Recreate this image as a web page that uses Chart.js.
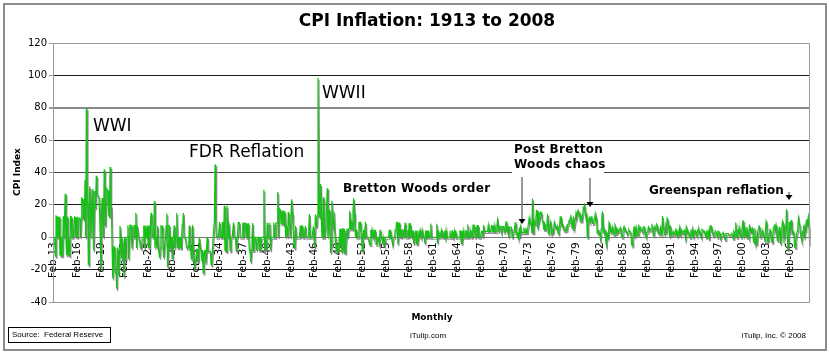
<!DOCTYPE html>
<html>
<head>
<meta charset="utf-8">
<script src="https://cdn.jsdelivr.net/npm/chart.js@4.4.1/dist/chart.umd.min.js"></script>
<style>
html,body{margin:0;padding:0;background:#fff;}
#wrap{width:830px;height:355px;position:relative;}
</style>
</head>
<body>
<div id="wrap"><canvas id="c" width="830" height="355"></canvas></div>
<script>
// Annualized monthly CPI change (%), Feb 1913 .. Aug 2008
const cpi1910s = [
  0, 0, 0, -11.6, 13.1, 12.9, 0, 12.8, 0, 12.7, -11.2,
  0, -11.4, 0, -11.5, 13.0, 0, 12.8, 26.8, 0, -11.1, 12.6, -11.1,
  0, -10.9, -11.3, 12.9, 12.7, 0, 0, 0, 0, 12.6, 12.4, 0,
  12.3, 0, 12.2, 12.0, 11.9, 11.8, 0, 11.6, 24.3, 23.9, 23.4, 11.0,
  10.8, 35.5, 0, 79.6, 20.8, 20.4, -17.0, 20.4, 31.4, 19.7, 0, 19.3,
  29.7, 8.9, -8.2, 18.6, 28.6, 17.9, 38.0, 26.7, 26.1, 25.5, 25.0, 15.8,
  0, -19.8, 16.0, 24.3, 15.4, 0, 41.9, 22.7, 7.0, 22.2, 30.0, 29.3
];
const cpi1920s = [
  28.6, 13.2, 13.0, 43.4, 19.3, 19.0, -5.6, -25.5, -16.4, -5.8, -5.9, -21.8,
  -22.1, -32.0, -6.3, -12.3, -23.5, -6.6, 7.0, 0, -12.7, 0, -6.6, -6.7,
  -24.5, 0, -13.3, 0, 0, 0, 7.4, -13.4, 0, 7.5, 7.4, 7.4,
  -6.9, 0, 0, 7.4, 0, 7.3, 15.1, -6.7, 7.2, 7.2, 0, 0,
  0, -6.7, -6.8, -6.8, 0, 0, 7.3, -6.8, 7.3, 7.3, 0, 7.2,
  0, -6.7, 7.2, -6.7, 7.2, 14.8, 14.6, 0, 0, 0, 22.3, -6.5,
  0, 0, -6.5, 7.0, -6.5, -6.5, -12.7, -6.6, 7.1, 7.1, 7.0, 0,
  -12.7, -6.7, -6.7, 0, 7.2, 14.7, -18.6, -6.7, 7.2, 7.2, -6.7, 0,
  0, -13.0, 0, 0, 7.3, -6.8, 0, 0, 15.0, -6.7, 0, -6.8,
  0, 0, -6.8, -6.8, 7.4, 7.3, 15.0, 0, 0, 0, 0, -6.7
];
const cpi1930s = [
  -6.8, -6.8, -6.8, 7.3, -6.8, -6.9, -13.4, -7.0, 7.5, -7.0, -7.0, -19.9,
  -14.0, -14.1, -7.4, -7.4, -14.5, -14.6, 0, 0, -7.7, -7.7, -15.0, -7.9,
  -22.0, -15.6, -8.2, -8.2, -16.0, -8.4, 0, -8.5, -8.5, -8.6, -8.6, -8.7,
  -16.9, -17.1, -9.0, 0, 0, 9.9, 45.0, 9.5, 0, 0, 0, 0,
  0, 9.4, 0, 0, 0, 9.4, 0, 0, 19.5, -8.5, 0, -8.6,
  19.5, 9.2, 0, 9.1, 0, -8.4, 0, 0, 0, 0, 9.1, 0,
  0, 0, -8.4, 0, 0, 9.1, 9.1, 9.0, 0, 0, 0, 0,
  8.9, 0, 8.8, 8.8, 8.7, 0, 8.7, 0, 8.6, 0, -7.9, -8.0,
  -15.5, -8.1, 0, 8.8, -8.1, 0, 0, 0, 0, -8.2, 0, 0,
  0, -8.2, 0, -8.3, 0, 0, 0, 0, 29.4, -8.2, 0, 0
];
const cpi1940s = [
  -8.2, 9.0, 0, 0, 0, 8.9, -8.2, 0, 0, 0, 0, 8.9,
  0, 0, 8.8, 8.8, 8.7, 28.0, 0, 17.6, 17.3, 17.1, 8.1, 8.1,
  16.7, 7.9, 16.3, 7.8, 16.0, 0, 7.6, 7.6, 0, 15.6, 7.4, 7.4,
  0, 0, 23.5, 14.9, 7.1, 0, -6.6, -6.7, 7.1, 0, 0, 0,
  0, 0, 0, 7.1, 0, 7.1, 7.0, 0, 0, 0, 0, 7.0,
  0, 0, 0, 0, 7.0, 14.3, 0, 0, 0, 0, 0, 6.8,
  0, -6.4, 14.1, 6.8, 6.7, 13.9, 98.6, 27.2, 12.6, 26.2, 32.9, 11.9,
  0, 0, 24.7, 0, 0, 5.6, 11.5, 17.5, 30.2, 0, 5.3, 16.8,
  16.6, -9.7, -5.0, 22.5, 5.2, 10.5, 16.0, 5.0, 0, -4.8, -9.4, -4.8,
  -4.9, -9.6, 0, 5.2, -4.9, 5.2, -9.6, 5.2, 5.2, -9.6, 5.2, -9.6
];
const cpi1950s = [
  -5.0, 0, 5.2, 0, 5.2, 5.2, 16.2, 10.4, 5.0, 10.3, 5.0, 15.6,
  24.0, 15.2, 4.8, 0, 4.7, 0, 0, 0, 9.6, 4.7, 9.5, 4.6,
  0, -8.7, 0, 4.6, 0, 4.6, 9.4, 0, 0, 0, 0, 0,
  -4.4, -4.4, 4.6, 0, 4.6, 4.6, 0, 4.6, 0, 4.5, -4.4, 0,
  0, 0, 0, -4.4, 4.6, 0, 0, 0, -4.4, 0, 0, -4.4,
  0, 0, 0, 0, 0, 0, 4.6, 0, 4.6, 0, 0, -4.4,
  0, 0, 0, 4.6, 4.5, 9.2, 9.2, -4.3, 4.5, 9.1, 0, 4.4,
  0, 4.4, 4.4, 4.4, 0, 4.4, 8.9, 0, 0, 0, 4.3, 0,
  8.7, 0, 8.7, 4.2, 0, 0, 4.2, -4.1, 0, 0, 4.2, -4.1,
  4.2, -4.1, 0, 4.2, 0, 4.2, 4.2, 0, 4.2, 4.2, 0, 0
];
const cpi1960s = [
  -4.0, 4.2, 0, 4.1, 0, 4.1, 0, 0, 0, 8.4, 0, 0,
  0, 0, 0, 0, 0, 0, 8.3, -3.9, 4.1, 0, 0, 0,
  0, 4.1, 0, 4.1, 0, 0, 4.0, 0, 4.0, 0, 0, 0,
  0, 0, 4.0, 0, 0, 4.0, 4.0, 0, 0, 4.0, 0, 4.0,
  0, 0, 0, 0, 0, 3.9, 3.9, -3.8, 3.9, 0, 3.9, 0,
  0, 0, 3.9, 3.9, 0, 7.9, 0, 0, 0, 3.9, 0, 3.9,
  0, 7.8, 3.8, 7.7, 0, 3.8, 3.8, 7.6, 0, 7.6, 0, 0,
  0, 0, 3.7, 3.7, 0, 7.5, 3.7, 3.7, 3.6, 3.6, 3.6, 3.6,
  7.3, 3.6, 3.6, 3.6, 3.5, 7.2, 7.1, 3.5, 3.5, 7.1, 3.5, 3.4,
  3.4, 6.9, 10.5, 6.8, 3.4, 6.8, 6.8, 6.7, 3.3, 6.7, 6.6, 6.6
];
const cpi1970s = [
  3.2, 6.5, 6.5, 9.8, 3.2, 6.4, 6.4, 0, 6.3, 6.3, 6.3, 6.2,
  0, 3.1, 3.1, 3.0, 6.1, 9.3, 3.0, 3.0, 0, 3.0, 0, 6.0,
  0, 6.0, 3.0, 2.9, 2.9, 2.9, 5.9, 2.9, 2.9, 5.8, 2.9, 2.9,
  2.9, 8.8, 11.8, 8.6, 8.6, 8.5, 2.7, 23.9, 2.7, 11.2, 8.2, 8.1,
  10.9, 16.6, 16.3, 5.1, 16.1, 10.3, 10.3, 15.6, 15.4, 12.5, 9.8, 9.7,
  4.7, 9.6, 4.7, 4.6, 7.0, 9.4, 14.3, 2.2, 6.8, 6.8, 9.1, 4.4,
  2.2, 4.4, 2.2, 4.4, 8.9, 6.6, 6.5, 6.5, 4.3, 6.4, 2.1, 4.2,
  6.4, 13.0, 8.4, 10.6, 6.2, 8.3, 6.1, 4.0, 4.0, 4.0, 6.0, 3.9,
  8.0, 8.0, 10.0, 9.9, 11.9, 13.8, 9.6, 5.6, 9.5, 11.4, 5.5, 5.5,
  11.2, 15.0, 12.8, 14.6, 16.4, 14.3, 14.1, 12.1, 13.8, 10.1, 11.8, 13.4
];
const cpi1980s = [
  18.6, 18.4, 19.8, 14.3, 12.5, 14.0, 0, 9.1, 10.6, 12.0, 10.4, 11.9,
  10.2, 13.1, 8.5, 8.5, 9.9, 11.2, 14.1, 9.6, 12.4, 2.6, 3.9, 3.9,
  3.9, 3.9, -1.3, 5.2, 12.0, 16.1, 6.4, 2.5, 2.5, 3.7, -2.4, -4.8,
  2.5, 1.2, 0, 8.9, 7.6, 3.7, 4.9, 3.7, 6.1, 3.6, 2.4, 1.2,
  7.4, 6.1, 2.4, 6.0, 3.5, 3.5, 4.7, 4.7, 5.9, 3.5, 0, 0,
  2.3, 5.8, 4.6, 5.8, 4.6, 3.4, 2.3, 2.2, 3.4, 4.5, 3.4, 3.4,
  3.3, -3.2, -5.4, -2.2, 3.4, 6.8, 0, 2.2, 5.6, 1.1, 1.1, 1.1,
  7.9, 4.4, 5.5, 6.6, 4.3, 4.3, 3.2, 6.5, 6.5, 3.2, 1.0, 0,
  3.2, 3.2, 5.3, 6.4, 4.2, 5.2, 5.2, 5.2, 8.3, 4.1, 1.0, 2.0,
  6.1, 5.1, 7.1, 8.1, 7.0, 2.9, 2.9, 1.9, 3.9, 5.9, 2.9, 1.9
];
const cpi1990s = [
  13.1, 5.8, 6.8, 1.9, 2.8, 6.7, 4.7, 11.6, 10.5, 7.5, 2.7, 0,
  7.4, 1.8, 1.8, 1.8, 3.6, 3.6, 1.8, 3.6, 5.4, 1.8, 3.5, 0.9,
  1.7, 4.4, 6.2, 1.7, 1.7, 4.4, 2.6, 3.5, 3.5, 4.3, 1.7, -0.8,
  6.1, 4.3, 4.3, 3.4, 1.7, 1.7, 0, 3.4, 2.5, 5.1, 0.8, 0,
  3.3, 4.2, 4.2, 1.6, 0.8, 4.1, 3.3, 5.0, 3.3, 0.8, 1.6, 0,
  4.9, 4.9, 4.0, 4.0, 2.4, 2.4, 0, 3.2, 2.4, 4.0, -0.8, -0.8,
  7.3, 4.0, 6.4, 4.7, 2.3, 0.8, 2.3, 2.3, 3.9, 3.9, 2.3, 0,
  3.8, 3.8, 3.1, 1.5, -0.7, 1.5, 1.5, 2.3, 3.0, 3.0, -0.7, -1.5,
  2.3, 2.2, 2.2, 2.2, 2.2, 1.5, 1.5, 1.5, 1.5, 3.0, 0, -0.7,
  3.0, 1.5, 3.7, 9.1, 0, 0, 3.7, 2.9, 5.9, 2.2, 0.7, 0
];
const cpi2000s = [
  3.6, 7.4, 10.4, 0.7, 1.4, 6.5, 2.8, 0, 6.4, 2.1, 0.7, -0.7,
  7.8, 4.9, 2.8, 4.9, 5.6, 2.0, -3.3, 0, 5.5, -4.0, -2.0, -4.6,
  2.7, 4.8, 6.9, 6.9, 0, 0.7, 1.3, 4.1, 2.0, 2.0, 0, -2.6,
  5.4, 9.6, 7.4, -2.6, -1.9, 1.3, 1.3, 4.7, 4.0, -1.3, -3.2, -1.3,
  6.0, 6.7, 8.0, 3.9, 7.2, 3.9, -1.9, 0.6, 2.6, 6.5, 0.6, -4.3,
  2.6, 7.1, 9.8, 8.4, -1.2, 0.6, 5.7, 6.3, 17.5, 2.4, -8.0, -4.8,
  9.5, 2.4, 6.8, 10.7, 6.1, 2.4, 3.6, 2.4, -5.7, -6.3, -1.8, 1.8,
  3.7, 6.6, 11.5, 8.1, 7.6, 2.4, -0.3, -2.2, 3.4, 2.6, 7.4, -0.8,
  6.1, 3.5, 10.9, 7.5, 10.6, 12.8, 6.5, -4.7
];

const startYear = 1913;
const startMonthIndex = 1; // Feb
const monthNames = ['Jan','Feb','Mar','Apr','May','Jun','Jul','Aug','Sep','Oct','Nov','Dec'];
const tickLabels = ['Feb-13','Feb-16','Feb-19','Feb-22','Feb-25','Feb-28','Feb-31','Feb-34','Feb-37',
  'Feb-40','Feb-43','Feb-46','Feb-49','Feb-52','Feb-55','Feb-58','Feb-61','Feb-64','Feb-67',
  'Feb-70','Feb-73','Feb-76','Feb-79','Feb-82','Feb-85','Feb-88','Feb-91','Feb-94','Feb-97',
  'Feb-00','Feb-03','Feb-06'];
const yTicks = { min: -40, max: 120, step: 20 };

const cpiValues = [].concat(cpi1910s, cpi1920s, cpi1930s, cpi1940s, cpi1950s,
  cpi1960s, cpi1970s, cpi1980s, cpi1990s, cpi2000s);

const categories = [];
for (let i = 0; i < cpiValues.length; i++) {
  const m = startMonthIndex + i;
  const yr = startYear + Math.floor(m / 12);
  categories.push(monthNames[m % 12] + '-' + String(yr % 100).padStart(2, '0'));
}
const tickSet = new Set(tickLabels);

const FONT = '"DejaVu Sans", Verdana, sans-serif';

const decorPlugin = {
  id: 'decor',
  beforeDraw(chart) {
    const ctx = chart.ctx;
    ctx.save();
    ctx.fillStyle = '#fff';
    ctx.fillRect(0, 0, chart.width, chart.height);
    ctx.restore();
  },
  beforeDatasetDraw(chart) {
    const ctx = chart.ctx;
    ctx.save();
    ctx.shadowColor = 'rgba(120,120,120,0.85)';
    ctx.shadowOffsetX = 1;
    ctx.shadowOffsetY = 2;
    ctx.shadowBlur = 0;
  },
  afterDatasetDraw(chart) {
    chart.ctx.restore();
  },
  afterDraw(chart) {
    const ctx = chart.ctx;
    const a = chart.chartArea;
    ctx.save();
    // plot area border
    ctx.strokeStyle = '#9a9a9a';
    ctx.lineWidth = 1;
    ctx.strokeRect(Math.round(a.left) + 0.5, Math.round(a.top) + 0.5,
      Math.round(a.right - a.left) - 1, Math.round(a.bottom - a.top));
    // outer frame
    ctx.strokeStyle = '#8c8c8c';
    ctx.lineWidth = 2;
    ctx.strokeRect(4, 4, 822, 346);

    // title
    ctx.fillStyle = '#000';
    ctx.textAlign = 'center';
    ctx.textBaseline = 'alphabetic';
    ctx.font = 'bold 17px ' + FONT;
    ctx.fillText('CPI Inflation: 1913 to 2008', 427, 26);

    // y axis title
    ctx.save();
    ctx.translate(18, 172);
    ctx.rotate(-Math.PI / 2);
    ctx.font = 'bold 9px ' + FONT;
    ctx.textBaseline = 'middle';
    ctx.fillText('CPI Index', 0, 0);
    ctx.restore();

    // x axis title
    ctx.font = 'bold 9px ' + FONT;
    ctx.textBaseline = 'middle';
    ctx.fillText('Monthly', 432, 318);

    // footer
    ctx.font = '8px "Liberation Sans", Arial, sans-serif';
    ctx.fillText('iTulip.com', 428, 336);
    ctx.textAlign = 'right';
    ctx.fillText('iTulip, Inc. \u00A9 2008', 806, 336);
    ctx.textAlign = 'left';
    ctx.fillText('Source:  Federal Reserve', 12, 335);
    ctx.strokeStyle = '#000';
    ctx.lineWidth = 1;
    ctx.strokeRect(8.5, 327.5, 102, 15);

    // annotations
    ctx.textBaseline = 'alphabetic';
    ctx.textAlign = 'left';
    ctx.font = '17px ' + FONT;
    ctx.fillText('WWI', 93, 131);
    ctx.fillText('FDR Reflation', 189, 157);
    ctx.fillText('WWII', 322, 98);

    ctx.font = 'bold 12px ' + FONT;
    try { ctx.letterSpacing = '0.3px'; } catch (e) {}
    ctx.fillText('Bretton Woods order', 343, 192);
    ctx.fillStyle = '#fff';
    ctx.fillRect(512, 141, 92, 35);
    ctx.fillStyle = '#000';
    ctx.fillText('Post Bretton', 514, 153);
    ctx.fillText('Woods chaos', 514, 168);
    try { ctx.letterSpacing = '0px'; } catch (e) {}
    ctx.fillText('Greenspan reflation', 649, 194);

    function arrow(x, y1, y2) {
      ctx.strokeStyle = '#777';
      ctx.lineWidth = 1.5;
      ctx.beginPath();
      ctx.moveTo(x, y1);
      ctx.lineTo(x, y2 - 4);
      ctx.stroke();
      ctx.fillStyle = '#000';
      ctx.beginPath();
      ctx.moveTo(x - 3.5, y2 - 5);
      ctx.lineTo(x + 3.5, y2 - 5);
      ctx.lineTo(x, y2);
      ctx.closePath();
      ctx.fill();
    }
    arrow(522, 177, 224);
    arrow(590, 178, 207);
    arrow(789, 192, 200);
    ctx.restore();
  }
};

new Chart(document.getElementById('c'), {
  type: 'line',
  data: {
    labels: categories,
    datasets: [{
      label: 'CPI',
      data: cpiValues,
      borderColor: '#14c214',
      borderWidth: 1.2,
      pointRadius: 0,
      tension: 0,
      fill: false
    }]
  },
  options: {
    responsive: false,
    animation: false,
    events: [],
    layout: { padding: { left: 0, top: 43, right: 20, bottom: 53 } },
    plugins: { legend: { display: false }, tooltip: { enabled: false }, title: { display: false } },
    scales: {
      x: {
        type: 'category',
        position: { y: 0 },
        offset: true,
        grid: { display: false, drawTicks: false },
        border: { display: true, color: '#777', width: 1 },
        ticks: {
          autoSkip: false,
          minRotation: 90,
          maxRotation: 90,
          padding: 5,
          color: '#000',
          font: { family: FONT, size: 10.5 },
          callback(value) {
            const lab = this.getLabelForValue(value);
            return tickSet.has(lab) ? lab : '';
          }
        }
      },
      y: {
        min: yTicks.min,
        max: yTicks.max,
        afterFit(scale) { scale.width = 53; },
        ticks: {
          stepSize: yTicks.step,
          padding: 2,
          color: '#000',
          font: { family: FONT, size: 10 }
        },
        border: { display: true, color: '#9a9a9a' },
        grid: {
          tickLength: 4,
          tickColor: '#9a9a9a',
          color(c) {
            const v = c.tick ? c.tick.value : 0;
            if (v === 80) return '#8a8a8a';
            if (v === 120 || v === -40) return '#9a9a9a';
            if (v === 40) return '#444';
            return '#1a1a1a';
          },
          lineWidth(c) {
            const v = c.tick ? c.tick.value : 0;
            return v === 80 ? 2 : 1;
          }
        }
      }
    }
  },
  plugins: [decorPlugin]
});
</script>
</body>
</html>
